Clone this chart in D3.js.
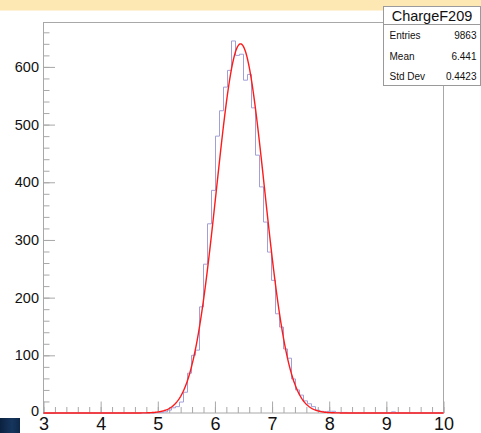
<!DOCTYPE html>
<html>
<head>
<meta charset="utf-8">
<script src="https://cdn.jsdelivr.net/npm/d3@7"></script>
<style>
  html, body { margin: 0; padding: 0; background: #ffffff; }
  svg { display: block; font-family: "Liberation Sans", Arial, Helvetica, sans-serif; }
</style>
</head>
<body>
<svg id="chart" width="481" height="433"></svg>
<script>
// ---- data ----
const histTitle = "ChargeF209";
const binRange = [3, 10];
const binCount = 100;
// bin contents, index 0..99 (bins of width 0.07 from 3 to 10)
const binValues = [
  0,0,0,0,0,0,0,0,0,0,
  0,0,0,0,0,0,0,0,0,0,
  0,0,0,0,0,0,0,0,1,1,
  2,5,9,11,19,36,69,100,109,184,
  258,328,386,480,524,565,594,645,620,622,
  577,587,529,447,392,331,279,230,172,149,
  111,95,59,40,31,21,16,11,5,3,
  2,3,3,1,1,1,0,0,0,0,
  0,0,0,0,0,0,0,2,0,0,
  0,0,0,0,0,0,0,0,0,0
];
// Gaussian fit parameters: constant, mean, sigma
const fitParams = [640, 6.448, 0.421];
const xTickLabels = [3, 4, 5, 6, 7, 8, 9, 10];
const yTickLabels = [0, 100, 200, 300, 400, 500, 600];
const statNames = ["Entries", "Mean", "Std Dev"];
const statValues = ["9863", "6.441", "0.4423"];
const yMax = 677;

// ---- layout ----
const svg = d3.select("#chart");
const W = 481, H = 433;
const frame = { left: 43.5, right: 443.5, top: 22.5, bottom: 413 };

// background strip and corner box
svg.append("rect").attr("x", 0).attr("y", 0).attr("width", W).attr("height", 10.5)
  .attr("fill", "#fde7b2");
const grad = svg.append("defs").append("linearGradient").attr("id", "navy")
  .attr("x1", 0).attr("y1", 0).attr("x2", 1).attr("y2", 0);
grad.append("stop").attr("offset", "0%").attr("stop-color", "#0b2140");
grad.append("stop").attr("offset", "60%").attr("stop-color", "#16365e");
grad.append("stop").attr("offset", "100%").attr("stop-color", "#0e2748");
svg.append("rect").attr("x", 0).attr("y", 418).attr("width", 20).attr("height", 15)
  .attr("fill", "url(#navy)");

const x = d3.scaleLinear().domain(binRange).range([frame.left, frame.right]);
const y = d3.scaleLinear().domain([0, yMax]).range([frame.bottom, frame.top]);

// frame
svg.append("rect")
  .attr("x", frame.left).attr("y", frame.top)
  .attr("width", frame.right - frame.left).attr("height", frame.bottom - frame.top)
  .attr("fill", "none").attr("stroke", "#a8a8a8").attr("stroke-width", 1);

const axisColor = "#a8a8a8";

// x axis: major ticks + minor ticks (inward)
const xMinor = d3.range(0, 36).map(i => binRange[0] + i * 0.2);
const gxMinor = svg.append("g").attr("transform", `translate(0,${frame.bottom})`)
  .call(d3.axisBottom(x).tickValues(xMinor).tickSizeInner(-6).tickSizeOuter(0).tickFormat(""));
const gx = svg.append("g").attr("transform", `translate(0,${frame.bottom})`)
  .call(d3.axisBottom(x).tickValues(xTickLabels).tickFormat(d3.format("d"))
    .tickSizeInner(-11.5).tickSizeOuter(0).tickPadding(4.5));
[gx, gxMinor].forEach(g => {
  g.select(".domain").remove();
  g.selectAll("line").attr("stroke", axisColor);
});
gx.selectAll("text").attr("font-size", 18).attr("fill", "#111")
  .attr("font-family", "'Liberation Sans', Arial, sans-serif");

// y axis
const yMinor = d3.range(0, 34).map(i => i * 20);
const gyMinor = svg.append("g").attr("transform", `translate(${frame.left},0)`)
  .call(d3.axisLeft(y).tickValues(yMinor).tickSizeInner(-6).tickSizeOuter(0).tickFormat(""));
const gy = svg.append("g").attr("transform", `translate(${frame.left},0)`)
  .call(d3.axisLeft(y).tickValues(yTickLabels).tickSizeInner(-11.5).tickSizeOuter(0).tickPadding(4.5));
[gy, gyMinor].forEach(g => {
  g.select(".domain").remove();
  g.selectAll("line").attr("stroke", axisColor);
});
gy.selectAll("text").attr("font-size", 14.5).attr("fill", "#111")
  .attr("font-family", "'Liberation Sans', Arial, sans-serif");
gy.selectAll(".tick").filter(d => d === 0).select("text").attr("dy", "0.2em");

// histogram outline
const bw = (binRange[1] - binRange[0]) / binCount;
const pts = [[binRange[0], 0]];
binValues.forEach((v, i) => {
  pts.push([binRange[0] + i * bw, v]);
  pts.push([binRange[0] + (i + 1) * bw, v]);
});
pts.push([binRange[1], 0]);
svg.append("path")
  .attr("d", d3.line().x(d => x(d[0])).y(d => y(d[1]))(pts))
  .attr("fill", "none").attr("stroke", "#a0a0d8").attr("stroke-width", 1);

// fit curve
const [A, mu, sg] = fitParams;
const fx = d3.range(0, 701).map(i => binRange[0] + i * 0.01);
svg.append("path")
  .attr("d", d3.line().x(d => x(d)).y(d => y(A * Math.exp(-0.5 * ((d - mu) / sg) ** 2)))(fx))
  .attr("fill", "none").attr("stroke", "#ff1a1a").attr("stroke-width", 1.4);

// stats box
const sb = { x: 383.5, y: 6.5, w: 97, titleH: 18, h: 79 };
svg.append("rect").attr("x", sb.x).attr("y", sb.y).attr("width", sb.w).attr("height", sb.h)
  .attr("fill", "#fff").attr("stroke", "#9a9a9a").attr("stroke-width", 1);
svg.append("line").attr("x1", sb.x).attr("x2", sb.x + sb.w)
  .attr("y1", sb.y + sb.titleH).attr("y2", sb.y + sb.titleH)
  .attr("stroke", "#9a9a9a");
svg.append("text").attr("x", sb.x + sb.w / 2).attr("y", sb.y + 14.5)
  .attr("text-anchor", "middle").attr("font-size", 14.5).attr("fill", "#111")
  .text(histTitle);
const rowY = d3.scaleLinear().domain([0, 2]).range([sb.y + 32.5, sb.y + 73.5]);
statNames.forEach((n, i) => {
  svg.append("text").attr("x", sb.x + 6).attr("y", rowY(i))
    .attr("font-size", 10).attr("fill", "#111").text(n);
  svg.append("text").attr("x", sb.x + sb.w - 4).attr("y", rowY(i))
    .attr("text-anchor", "end").attr("font-size", 10).attr("fill", "#111").text(statValues[i]);
});
</script>
</body>
</html>
